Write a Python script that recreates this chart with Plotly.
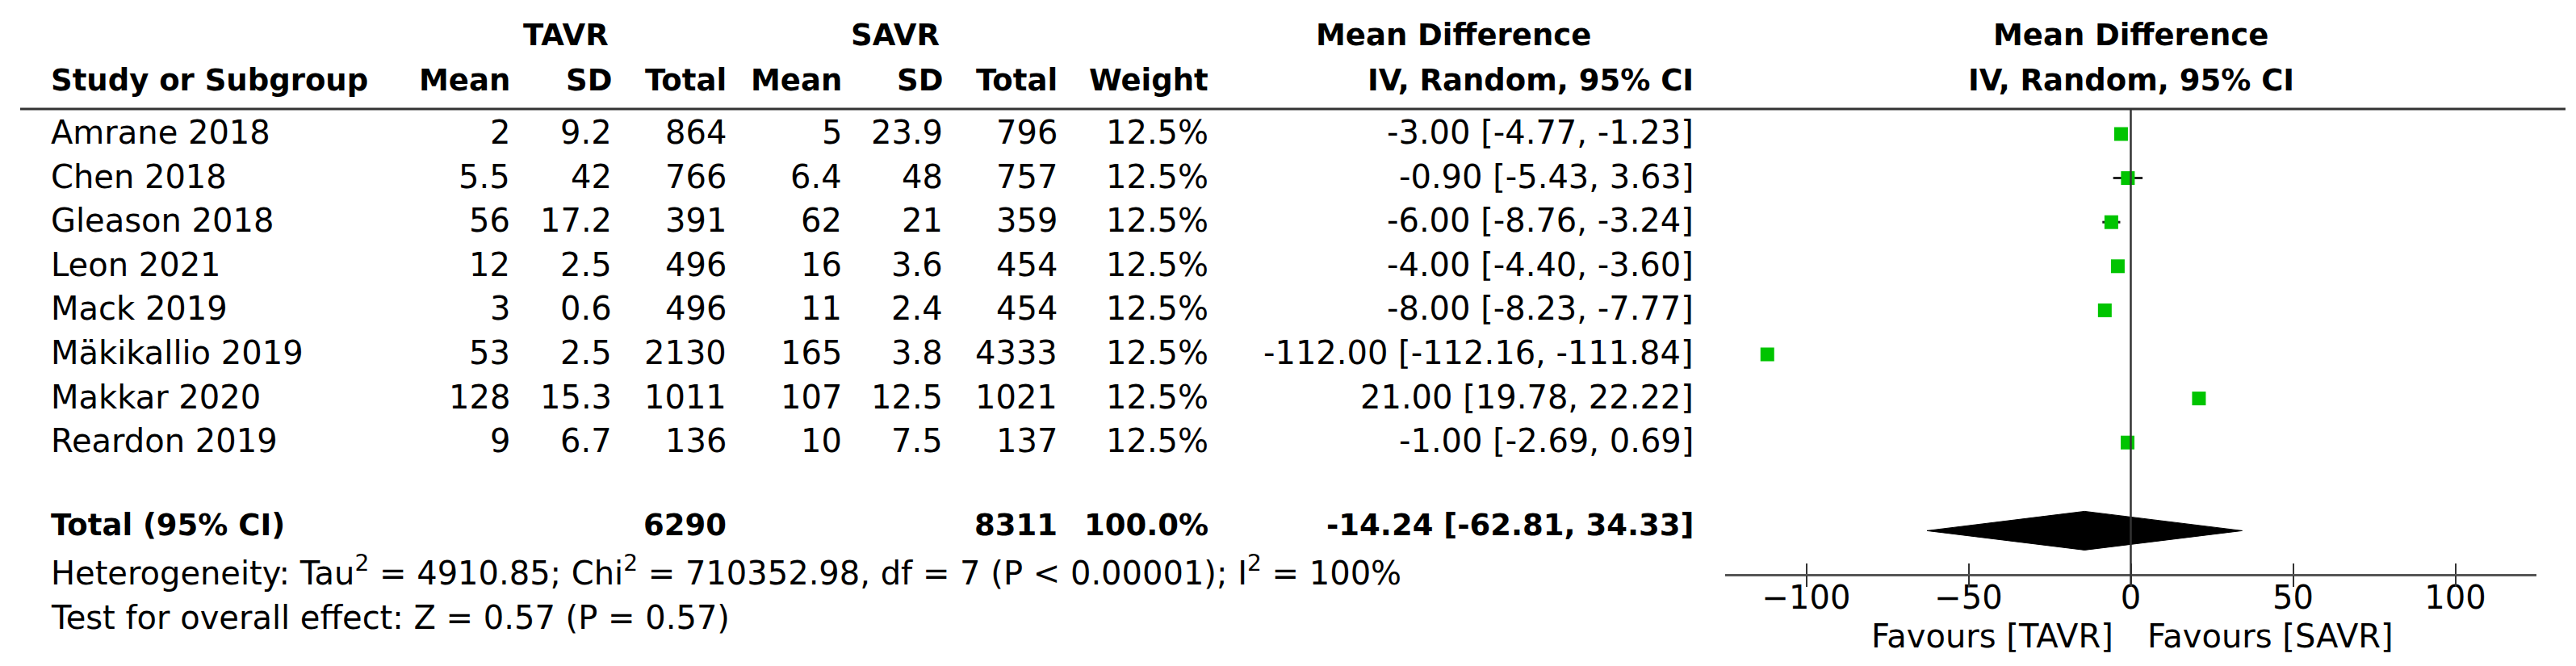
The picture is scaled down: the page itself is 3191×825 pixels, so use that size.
import plotly.graph_objects as go

# ---------------- data ----------------
studies = ["Amrane 2018", "Chen 2018", "Gleason 2018", "Leon 2021", "Mack 2019",
           "Mäkikallio 2019", "Makkar 2020", "Reardon 2019"]
tavr_mean = [2, 5.5, 56, 12, 3, 53, 128, 9]
tavr_sd = [9.2, 42, 17.2, 2.5, 0.6, 2.5, 15.3, 6.7]
tavr_total = [864, 766, 391, 496, 496, 2130, 1011, 136]
savr_mean = [5, 6.4, 62, 16, 11, 165, 107, 10]
savr_sd = [23.9, 48, 21, 3.6, 2.4, 3.8, 12.5, 7.5]
savr_total = [796, 757, 359, 454, 454, 4333, 1021, 137]
weight = [12.5, 12.5, 12.5, 12.5, 12.5, 12.5, 12.5, 12.5]
md = [-3.00, -0.90, -6.00, -4.00, -8.00, -112.00, 21.00, -1.00]
ci_lo = [-4.77, -5.43, -8.76, -4.40, -8.23, -112.16, 19.78, -2.69]
ci_hi = [-1.23, 3.63, -3.24, -3.60, -7.77, -111.84, 22.22, 0.69]

total_tavr = 6290
total_savr = 8311
total_weight = 100.0
total_md = -14.24
total_lo = -62.81
total_hi = 34.33

heterogeneity = "Heterogeneity: Tau<sup>2</sup> = 4910.85; Chi<sup>2</sup> = 710352.98, df = 7 (P < 0.00001); I<sup>2</sup> = 100%"
overall = "Test for overall effect: Z = 0.57 (P = 0.57)"
x_ticks = [-100, -50, 0, 50, 100]
favours_left = "Favours [TAVR]"
favours_right = "Favours [SAVR]"

# ---------------- layout constants ----------------
W, H = 3191, 825
FONT = "DejaVu Sans"
FS = 40          # regular text
FSB = 37         # bold text
ROW0 = 158.0     # pixel y of first study row
PITCH = 54.6     # pixel spacing between rows
GREEN = "#00C400"
TSHIFT = 6       # raise text slightly to match visual centring


def px(x):
    return x / W


def py(y):
    return 1 - y / H


y_top_rows = -ROW0 / PITCH
y_bot_rows = (H - ROW0) / PITCH
rows = list(range(len(studies)))
total_row = 9

fig = go.Figure()

# confidence intervals + study squares
fig.add_trace(go.Scatter(
    x=md, y=rows, mode="markers",
    marker=dict(symbol="square", size=17, color=GREEN, line=dict(width=0)),
    error_x=dict(type="data", symmetric=False,
                 array=[h - m for h, m in zip(ci_hi, md)],
                 arrayminus=[m - l for m, l in zip(md, ci_lo)],
                 thickness=3, width=0, color="#222222"),
    showlegend=False, hoverinfo="skip", cliponaxis=False,
))

# pooled diamond
dh = 24 / PITCH
fig.add_trace(go.Scatter(
    x=[total_lo, total_md, total_hi, total_md, total_lo],
    y=[total_row, total_row - dh, total_row, total_row + dh, total_row],
    mode="lines", fill="toself", fillcolor="black",
    line=dict(color="black", width=1),
    showlegend=False, hoverinfo="skip",
))

# overlay axis trace (for the downward half of the crossing ticks)
fig.add_trace(go.Scatter(x=[0], y=[0], xaxis="x2", mode="markers",
                         marker=dict(opacity=0), showlegend=False, hoverinfo="skip"))

ax_pos = py(704)
fig.update_layout(
    width=W, height=H,
    margin=dict(l=0, r=0, t=0, b=0),
    paper_bgcolor="white", plot_bgcolor="white",
    font=dict(family=FONT, size=FS, color="black"),
    xaxis=dict(domain=[px(2129), px(3134)], range=[-125, 125],
               anchor="free", position=ax_pos,
               showgrid=False, zeroline=False,
               showline=True, linecolor="#555555", linewidth=3,
               ticks="inside", ticklen=13, tickwidth=2, tickcolor="#333333",
               tickvals=x_ticks, ticklabelstandoff=-8,
               tickfont=dict(size=FS, family=FONT, color="black")),
    xaxis2=dict(domain=[px(2129), px(3134)], range=[-125, 125], matches="x",
                overlaying="x", anchor="free", position=ax_pos,
                showgrid=False, zeroline=False, showline=False,
                ticks="outside", ticklen=14, tickwidth=2, tickcolor="#333333",
                tickvals=x_ticks, showticklabels=False),
    yaxis=dict(domain=[0, 1], range=[y_bot_rows, y_top_rows],
               visible=False, showgrid=False, zeroline=False),
)

shapes = []
# header rule
shapes.append(dict(type="line", xref="paper", yref="paper",
                   x0=px(17), x1=px(3170), y0=py(127), y1=py(127),
                   line=dict(color="#333333", width=3)))
# line of no effect
shapes.append(dict(type="line", xref="x", yref="paper", x0=0, x1=0,
                   y0=py(127), y1=py(718), line=dict(color="#333333", width=2.5)))
fig.update_layout(shapes=shapes)

ann = []


def text(x, y, s, anchor="left", bold=False, xref="paper", xshift=0):
    ann.append(dict(x=x, y=y, xref=xref, yref="paper", text=(f"<b>{s}</b>" if bold else s),
                    showarrow=False, xanchor=anchor, yanchor="middle",
                    xshift=xshift, yshift=TSHIFT,
                    font=dict(family=FONT, size=(FSB if bold else FS), color="black")))


# headers
HY1, HY2 = 42, 98
text(px(693), py(HY1), "TAVR", "center", True)
text(px(1101), py(HY1), "SAVR", "center", True)
text(px(1793), py(HY1), "Mean Difference", "center", True)
text(0, py(HY1), "Mean Difference", "center", True, xref="x")
text(px(53), py(HY2), "Study or Subgroup", "left", True)
col_right = [626, 752, 894, 1037, 1162, 1304, 1491, 2092]
col_names = ["Mean", "SD", "Total", "Mean", "SD", "Total", "Weight", "IV, Random, 95% CI"]
for xr, nm in zip(col_right, col_names):
    text(px(xr), py(HY2), nm, "right", True)
text(0, py(HY2), "IV, Random, 95% CI", "center", True, xref="x")

# study rows
for i, s in enumerate(studies):
    yy = ROW0 + PITCH * i + 4
    vals = [f"{tavr_mean[i]:g}", f"{tavr_sd[i]:g}", f"{tavr_total[i]}",
            f"{savr_mean[i]:g}", f"{savr_sd[i]:g}", f"{savr_total[i]}",
            f"{weight[i]:.1f}%",
            f"{md[i]:.2f} [{ci_lo[i]:.2f}, {ci_hi[i]:.2f}]"]
    text(px(53), py(yy), s, "left")
    for xr, v in zip(col_right, vals):
        text(px(xr), py(yy), v, "right")

# total row
TY = 648
text(px(53), py(TY), "Total (95% CI)", "left", True)
text(px(col_right[2]), py(TY), f"{total_tavr}", "right", True)
text(px(col_right[5]), py(TY), f"{total_savr}", "right", True)
text(px(col_right[6]), py(TY), f"{total_weight:.1f}%", "right", True)
text(px(col_right[7]), py(TY), f"{total_md:.2f} [{total_lo:.2f}, {total_hi:.2f}]", "right", True)

text(px(53), py(705), heterogeneity, "left")
text(px(53), py(763), overall, "left")

# favours labels
text(0, py(786), favours_left, "right", xref="x", xshift=-20)
text(0, py(786), favours_right, "left", xref="x", xshift=18)

fig.update_layout(annotations=ann)
fig.write_html("out.html")
